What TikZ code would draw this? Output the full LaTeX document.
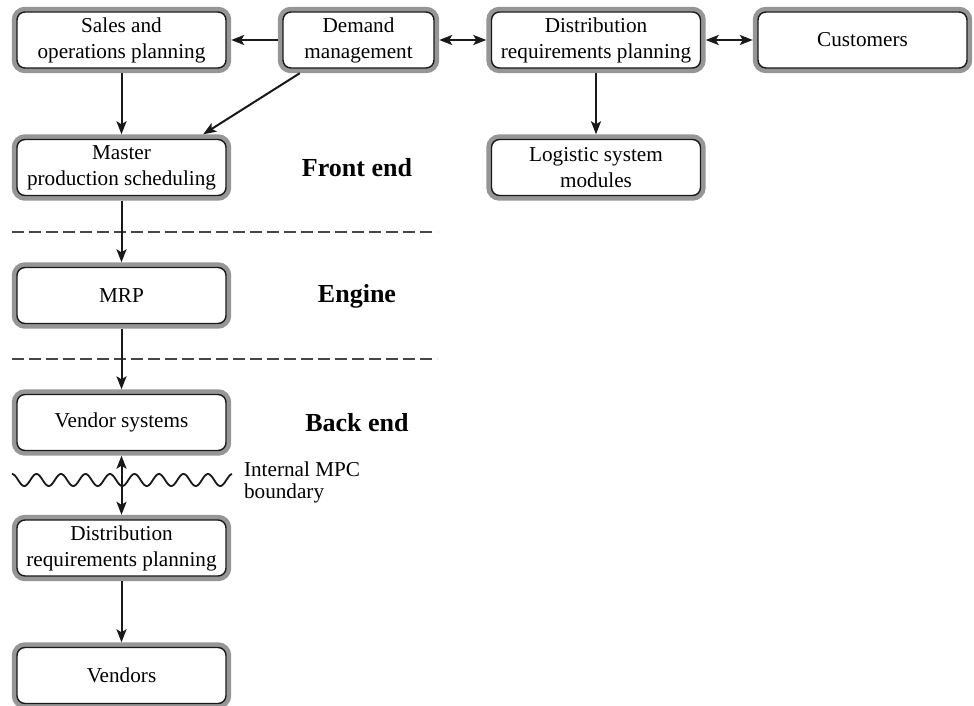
\documentclass[tikz,border=0pt]{standalone}
\usepackage{fontspec}
\setmainfont{Liberation Serif}
\usetikzlibrary{arrows.meta,calc}
\definecolor{bandgray}{RGB}{150,150,150}
\definecolor{dashgray}{RGB}{70,70,70}
\tikzset{
  blk/.style={draw=black!90, line width=0.7pt, fill=white, rounded corners=4pt,
    minimum width=104.5pt, minimum height=28pt, inner sep=1pt, outer sep=2.6pt,
    align=center, font=\fontsize{10.6}{13}\selectfont,
    preaction={draw=bandgray, line width=5.2pt}},
  tip/.style={Stealth[length=6.5pt,width=5pt,inset=1.5pt]},
  arr/.style={line width=1pt, black!90, -{Stealth[length=6.5pt,width=5pt,inset=1.5pt]}},
  darr/.style={line width=1pt, black!90, {Stealth[length=6.5pt,width=5pt,inset=1.5pt]}-{Stealth[length=6.5pt,width=5pt,inset=1.5pt]}},
  zone/.style={font=\fontsize{13}{15}\selectfont\bfseries},
  sep/.style={dashgray, line width=0.65pt, dash pattern=on 5.8pt off 2.7pt}
}
\begin{document}
\begin{tikzpicture}[x=0.5pt,y=-0.5pt]
\useasboundingbox (0,0) rectangle (974,706);
% top row
\node[blk] (sop) at (121.5,40) {Sales and\\operations planning};
\node[blk, minimum width=75.5pt] (dm) at (358.5,40) {Demand\\management};
\node[blk] (drp) at (596,40) {Distribution\\requirements planning};
\node[blk] (cus) at (862.5,40) {Customers};
% second row
\node[blk] (mps) at (121.5,167.5) {Master\\production scheduling};
\node[blk] (log) at (596,167.5) {Logistic system\\modules};
% column
\node[blk] (mrp) at (121.5,295.5) {MRP};
\node[blk] (ven) at (121.5,422.5) {Vendor systems};
\node[blk] (drp2) at (121.5,548) {Distribution\\requirements planning};
\node[blk] (vds) at (121.5,675.5) {Vendors};
% zone labels
\node[zone] (fe) at (357,168) {Front end};
\node[zone] (en) at (357,296) {Engine};
\node[zone] (be) at (357,423) {Back end};
% separators
\coordinate (s1a) at (12,232);
\coordinate (s1b) at (437,232);
\coordinate (s2a) at (12,359);
\coordinate (s2b) at (437,359);
\draw[sep] (s1a) -- (s1b);
\draw[sep] (s2a) -- (s2b);
% wave boundary
\draw[line width=0.9pt, black!90] plot[domain=12:232, samples=220, smooth] (\x,{480 - 6*sin(14.694*(\x-12) + 90)});
\node[anchor=west, align=left, font=\fontsize{10.6}{11}\selectfont] (imb) at (237,482) {Internal MPC\\boundary};
% connectors
\draw[arr] (dm.west) -- (sop.east);
\draw[darr] (dm.east) -- (drp.west);
\draw[darr] (drp.east) -- (cus.west);
\draw[arr] (sop.south) -- (mps.north);
\draw[arr] ([xshift=11pt]dm.south west) -- ([xshift=-14pt]mps.north east);
\draw[arr] (drp.south) -- (log.north);
\draw[arr] (mps.south) -- (mrp.north);
\draw[arr] (mrp.south) -- (ven.north);
\draw[darr] (ven.south) -- (drp2.north);
\draw[arr] (drp2.south) -- (vds.north);
\end{tikzpicture}
\end{document}
